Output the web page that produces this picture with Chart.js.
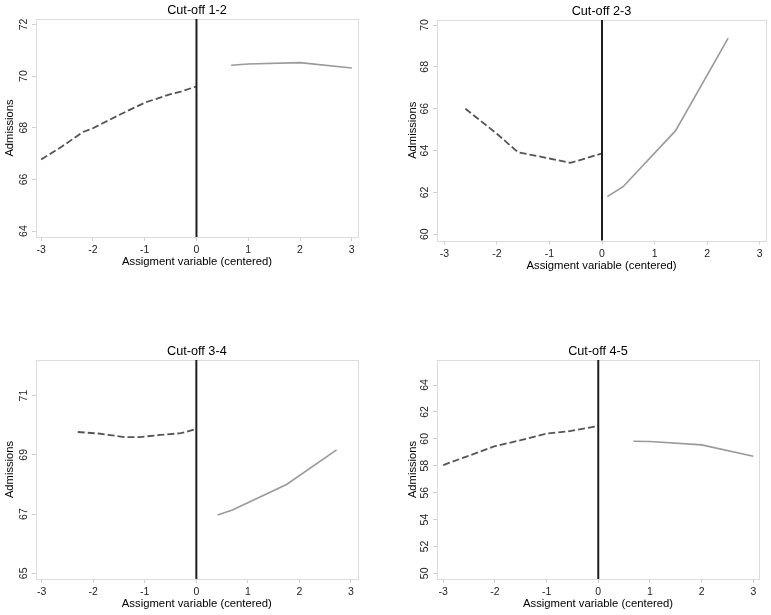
<!DOCTYPE html>
<html><head><meta charset="utf-8">
<script src="https://cdn.jsdelivr.net/npm/chart.js@4/dist/chart.umd.min.js"></script>
<style>
html,body{margin:0;padding:0;background:#fff;}
#wrap{position:relative;width:771px;height:615px;overflow:hidden;background:#fff;}
canvas{position:absolute;}
</style></head><body><div id="wrap">
<canvas id="c1" width="385" height="300" style="left:0;top:0"></canvas>
<canvas id="c2" width="386" height="300" style="left:385px;top:0"></canvas>
<canvas id="c3" width="385" height="315" style="left:0;top:300px"></canvas>
<canvas id="c4" width="386" height="315" style="left:385px;top:300px"></canvas>
</div>
<script>
// ---------- data ----------
const titles = ["Cut-off 1-2", "Cut-off 2-3", "Cut-off 3-4", "Cut-off 4-5"];
const xTickValues = [-3, -2, -1, 0, 1, 2, 3];
const cutoffValue = 0;

const yTicks1 = [64, 66, 68, 70, 72];
const yTicks2 = [60, 62, 64, 66, 68, 70];
const yTicks3 = [65, 67, 69, 71];
const yTicks4 = [50, 52, 54, 56, 58, 60, 62, 64];

// Panel 1 (cut-off 1-2)
const belowX1 = [-3, -2.6, -2.2, -2, -1.5, -1, -0.5, -0.3, 0];
const belowY1 = [66.77, 67.27, 67.83, 67.98, 68.49, 68.97, 69.3, 69.4, 69.6];
const aboveX1 = [0.67, 1, 2, 3];
const aboveY1 = [70.42, 70.47, 70.52, 70.31];

// Panel 2 (cut-off 2-3)
const belowX2 = [-2.6, -2.0, -1.6, -1.0, -0.6, 0];
const belowY2 = [66.0, 64.8, 63.92, 63.62, 63.41, 63.86];
const aboveX2 = [0.1, 0.4, 1.4, 2.4];
const aboveY2 = [61.8, 62.27, 64.95, 69.37];

// Panel 3 (cut-off 3-4)
const belowX3 = [-2.3, -1.9, -1.4, -1.1, -0.7, -0.3, 0];
const belowY3 = [69.77, 69.72, 69.6, 69.6, 69.67, 69.73, 69.87];
const aboveX3 = [0.41, 0.7, 1.75, 2.72];
const aboveY3 = [66.97, 67.14, 68.0, 69.17];

// Panel 4 (cut-off 4-5)
const belowX4 = [-3, -2.5, -2, -1.5, -1, -0.6, 0];
const belowY4 = [58.05, 58.75, 59.45, 59.9, 60.4, 60.55, 60.95];
const aboveX4 = [0.68, 1, 2, 3];
const aboveY4 = [59.82, 59.8, 59.55, 58.7];

const xTitle = "Assigment variable (centered)";
const yTitle = "Admissions";

// ---------- layout (not data) ----------
const panels = [
  {id:"c1", title:titles[0], yTicks:yTicks1, bx:belowX1, by:belowY1, ax:aboveX1, ay:aboveY1,
   xMin:-3.1, xMax:3.12, yMin:63.77, yMax:72.21, padL:0, yW:36, padR:27, top:19, padB:29},
  {id:"c2", title:titles[1], yTicks:yTicks2, bx:belowX2, by:belowY2, ax:aboveX2, ay:aboveY2,
   xMin:-3.14, xMax:3.12, yMin:59.7, yMax:70.24, padL:18, yW:34, padR:5, top:20, padB:25.5},
  {id:"c3", title:titles[2], yTicks:yTicks3, bx:belowX3, by:belowY3, ax:aboveX3, ay:aboveY3,
   xMin:-3.11, xMax:3.13, yMin:64.81, yMax:72.2, padL:0, yW:36, padR:27.3, top:60, padB:2},
  {id:"c4", title:titles[3], yTicks:yTicks4, bx:belowX4, by:belowY4, ax:aboveX4, ay:aboveY4,
   xMin:-3.12, xMax:3.11, yMin:49.58, yMax:65.86, padL:18, yW:34, padR:12, top:60, padB:2}
];

Chart.defaults.font.family = "'Liberation Sans', Arial, sans-serif";
Chart.defaults.color = "#222";

const framePlugin = {
  id: "frame",
  beforeDatasetsDraw(chart) {
    const a = chart.chartArea, ctx = chart.ctx;
    ctx.save();
    ctx.strokeStyle = "#dcdcdc";
    ctx.lineWidth = 1;
    ctx.strokeRect(Math.round(a.left) + 0.5, Math.round(a.top) + 0.5,
                   Math.round(a.right - a.left), Math.round(a.bottom - a.top));
    ctx.restore();
  },
  afterDatasetsDraw(chart) {
    const a = chart.chartArea, ctx = chart.ctx;
    const px = chart.scales.x.getPixelForValue(cutoffValue);
    ctx.save();
    ctx.strokeStyle = "#1e1e1e";
    ctx.lineWidth = 2;
    ctx.beginPath();
    ctx.moveTo(px, a.top);
    ctx.lineTo(px, a.bottom);
    ctx.stroke();
    ctx.restore();
  }
};

const TITLE_SIZE = 12.7, TITLE_LH = 1.2;

panels.forEach(p => {
  const toPts = (xs, ys) => xs.map((x, i) => ({x, y: ys[i]}));
  new Chart(document.getElementById(p.id), {
    type: "line",
    data: {
      datasets: [
        {data: toPts(p.bx, p.by), borderColor: "#555", borderWidth: 1.8, borderDash: [7, 3],
         pointRadius: 0, tension: 0, fill: false},
        {data: toPts(p.ax, p.ay), borderColor: "#9a9a9a", borderWidth: 1.6,
         pointRadius: 0, tension: 0, fill: false}
      ]
    },
    plugins: [framePlugin],
    options: {
      responsive: false,
      animation: false,
      devicePixelRatio: 1,
      layout: {padding: {left: p.padL, right: p.padR, top: 0, bottom: p.padB}},
      plugins: {
        legend: {display: false},
        tooltip: {enabled: false},
        title: {
          display: true, text: p.title, color: "#000", fullSize: false,
          font: {size: TITLE_SIZE, weight: "normal", lineHeight: TITLE_LH},
          padding: {top: p.top - TITLE_SIZE * TITLE_LH - 0.4, bottom: 0.4}
        }
      },
      scales: {
        x: {
          type: "linear", min: p.xMin, max: p.xMax,
          afterBuildTicks(s) { s.ticks = xTickValues.map(v => ({value: v})); },
          afterFit(s) { s.height = 34; s.paddingLeft = 0; s.paddingRight = 0; s.paddingTop = 0; s.paddingBottom = 0; },
          ticks: {autoSkip: false, maxRotation: 0, minRotation: 0, padding: 3,
                  font: {size: 10.5}, color: "#222", callback: v => String(v)},
          grid: {drawOnChartArea: false, drawTicks: true, tickLength: 4, color: "#cfcfcf"},
          border: {display: false},
          title: {display: true, text: xTitle, color: "#000", font: {size: 11.3},
                  padding: {top: 0, bottom: 2.2}}
        },
        y: {
          type: "linear", min: p.yMin, max: p.yMax,
          afterBuildTicks(s) { s.ticks = p.yTicks.map(v => ({value: v})); },
          afterFit(s) { s.width = p.yW; s.paddingLeft = 0; s.paddingRight = 0; s.paddingTop = 0; s.paddingBottom = 0; },
          ticks: {autoSkip: false, minRotation: 90, maxRotation: 90, padding: 2, crossAlign: "center",
                  font: {size: 10.5}, color: "#222", callback: v => String(v)},
          grid: {drawOnChartArea: false, drawTicks: true, tickLength: 4, color: "#cfcfcf"},
          border: {display: false},
          title: {display: true, text: yTitle, color: "#000", font: {size: 11.2},
                  padding: {top: 2.8, bottom: 0}}
        }
      }
    }
  });
});
</script>
</body></html>
